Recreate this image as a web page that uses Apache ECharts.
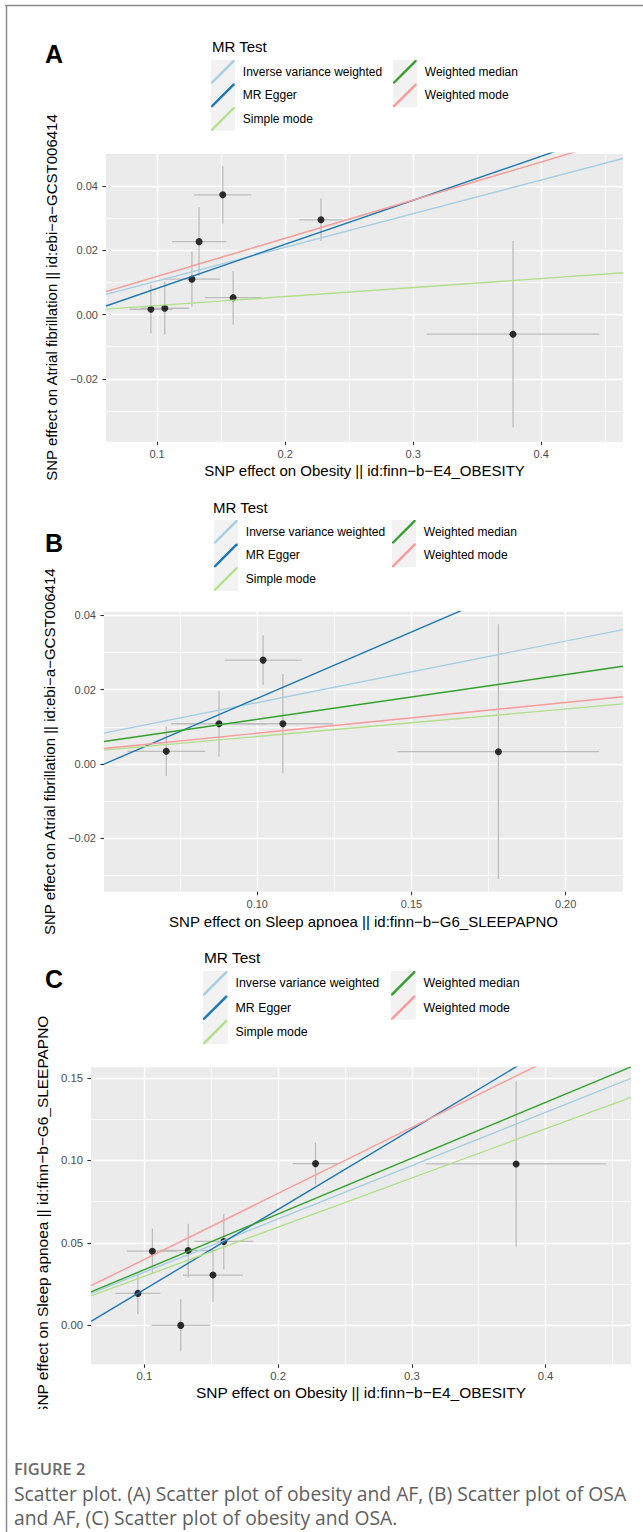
<!DOCTYPE html>
<html>
<head>
<meta charset="utf-8">
<script src="https://cdn.jsdelivr.net/npm/echarts@6/dist/echarts.min.js"></script>
<style>
html,body{margin:0;padding:0;background:#ffffff;}
#chart{width:643px;height:1532px;}
</style>
</head>
<body>
<div id="chart"></div>
<script>
// ---------------- data ----------------
const methods = ['Inverse variance weighted', 'MR Egger', 'Simple mode', 'Weighted median', 'Weighted mode'];

// Panel A : obesity -> AF
const aX    = [0.0952, 0.1060, 0.1272, 0.1328, 0.1513, 0.1594, 0.2280, 0.3780];
const aXse  = [0.0168, 0.0188, 0.0220, 0.0212, 0.0224, 0.0221, 0.0168, 0.0675];
const aY    = [0.00165, 0.00196, 0.0110, 0.02265, 0.0372, 0.00525, 0.02944, -0.0061];
const aYse  = [0.0075, 0.0082, 0.0086, 0.0107, 0.0089, 0.0083, 0.0066, 0.0290];
const aSlope     = [0.1045, 0.1369, 0.0280, 0.1185, 0.1185];
const aIntercept = [0, -0.00557, 0, 0, 0];
const aXRange = [0.0601, 0.4639];
const aYRange = [-0.0395, 0.0501];
const aXTicks = [0.1, 0.2, 0.3, 0.4];
const aYTicks = [-0.02, 0.00, 0.02, 0.04];
const aXMinor = [0.15, 0.25, 0.35, 0.45];
const aYMinor = [-0.03, -0.01, 0.01, 0.03, 0.05];
const aXName = 'SNP effect on Obesity || id:finn\u2212b\u2212E4_OBESITY';
const aYName = 'SNP effect on Atrial fibrillation || id:ebi\u2212a\u2212GCST006414';

// Panel B : sleep apnoea -> AF
const bX    = [0.0705, 0.0876, 0.1019, 0.1083, 0.1782];
const bXse  = [0.0126, 0.0155, 0.0125, 0.0163, 0.0327];
const bY    = [0.0034, 0.0108, 0.0279, 0.0108, 0.0033];
const bYse  = [0.0066, 0.0088, 0.0067, 0.0133, 0.0342];
const bSlope     = [0.165, 0.356, 0.0738, 0.120, 0.0826];
const bIntercept = [0, -0.01795, 0, 0, 0];
const bXRange = [0.0503, 0.2186];
const bYRange = [-0.0343, 0.0409];
const bXTicks = [0.10, 0.15, 0.20];
const bYTicks = [-0.02, 0.00, 0.02, 0.04];
const bXMinor = [0.075, 0.125, 0.175];
const bYMinor = [-0.03, -0.01, 0.01, 0.03];
const bXName = 'SNP effect on Sleep apnoea || id:finn\u2212b\u2212G6_SLEEPAPNO';
const bYName = 'SNP effect on Atrial fibrillation || id:ebi\u2212a\u2212GCST006414';

// Panel C : obesity -> sleep apnoea
const cX    = [0.0952, 0.1060, 0.1272, 0.1328, 0.1513, 0.1594, 0.2280, 0.3780];
const cXse  = [0.0168, 0.0188, 0.0220, 0.0212, 0.0224, 0.0221, 0.0168, 0.0675];
const cY    = [0.0194, 0.0450, 0.0000, 0.0454, 0.0305, 0.0509, 0.0981, 0.0979];
const cYse  = [0.0126, 0.0137, 0.0158, 0.0162, 0.0162, 0.0168, 0.0126, 0.0502];
const cSlope     = [0.323, 0.4857, 0.298, 0.338, 0.400];
const cIntercept = [0, -0.0268, 0, 0, 0];
const cXRange = [0.0601, 0.4639];
const cYRange = [-0.0236, 0.1565];
const cXTicks = [0.1, 0.2, 0.3, 0.4];
const cYTicks = [0.00, 0.05, 0.10, 0.15];
const cXMinor = [0.15, 0.25, 0.35, 0.45];
const cYMinor = [0.025, 0.075, 0.125];
const cXName = 'SNP effect on Obesity || id:finn\u2212b\u2212E4_OBESITY';
const cYName = 'SNP effect on Sleep apnoea || id:finn\u2212b\u2212G6_SLEEPAPNO';

// ---------------- styling / layout ----------------
const FONT = "'Liberation Sans', Arial, Helvetica, sans-serif";
const methodColors = ['#A6CEE3', '#1F78B4', '#B2DF8A', '#33A02C', '#FB9A99'];
const DIAG = 'path://M0,24L1.7,24L24,1.7L24,0L22.3,0L0,22.3Z';

function fmt(v, d) { return v.toFixed(d).replace('-', '\u2212'); }

const panels = [
  { letter: 'A', x: aX, xse: aXse, y: aY, yse: aYse, slope: aSlope, intercept: aIntercept,
    xRange: aXRange, yRange: aYRange, xTicks: aXTicks, yTicks: aYTicks, xMinor: aXMinor, yMinor: aYMinor,
    xDec: 1, yDec: 2, xName: aXName, yName: aYName, lineW: [1.4, 1.4, 1.4, 0.3, 1.4],
    grid: { left: 106, top: 153.3, width: 517, height: 288.4 }, yNameGap: 42, xNameGap: 21, fs: 1,
    letterPos: [54, 54], legTitle: [212, 46], leg1: [211, 60], leg2: [393, 60], rowH: 23.6 },
  { letter: 'B', x: bX, xse: bXse, y: bY, yse: bYse, slope: bSlope, intercept: bIntercept,
    xRange: bXRange, yRange: bYRange, xTicks: bXTicks, yTicks: bYTicks, xMinor: bXMinor, yMinor: bYMinor,
    xDec: 2, yDec: 2, xName: bXName, yName: bYName, lineW: [1.4, 1.4, 1.4, 1.4, 1.4],
    grid: { left: 104, top: 611.7, width: 519, height: 280 }, yNameGap: 40, xNameGap: 22, fs: 1,
    letterPos: [54, 543], legTitle: [213, 507], leg1: [214, 520], leg2: [392, 520], rowH: 23.6 },
  { letter: 'C', x: cX, xse: cXse, y: cY, yse: cYse, slope: cSlope, intercept: cIntercept,
    xRange: cXRange, yRange: cYRange, xTicks: cXTicks, yTicks: cYTicks, xMinor: cXMinor, yMinor: cYMinor,
    xDec: 1, yDec: 2, xName: cXName, yName: cYName, lineW: [1.4, 1.4, 1.4, 1.4, 1.4],
    grid: { left: 91, top: 1067.3, width: 540, height: 297 }, yNameGap: 35, xNameGap: 21, fs: 1.03,
    letterPos: [54, 979], legTitle: [204, 957], leg1: [203, 971], leg2: [391, 971], rowH: 24.4 }
];

const grids = [], xAxes = [], yAxes = [], series = [], legends = [], graphics = [];

panels.forEach((p, i) => {
  grids.push(Object.assign({ show: true, backgroundColor: '#EBEBEB', borderWidth: 0, containLabel: false, outerBoundsMode: 'none' }, p.grid));
  const fs = p.fs;
  const tickLabel = { color: '#4D4D4D', fontSize: 11 * fs, fontFamily: FONT };
  // major x
  xAxes.push({
    type: 'value', gridIndex: i, min: p.xRange[0], max: p.xRange[1], position: 'bottom',
    name: p.xName, nameLocation: 'middle', nameGap: p.xNameGap,
    nameTextStyle: { color: '#000', fontSize: 15 * fs, fontFamily: FONT },
    axisLine: { show: false, onZero: false },
    axisTick: { show: true, length: 3.6, lineStyle: { color: '#333333', width: 1.1 }, customValues: p.xTicks },
    axisLabel: Object.assign({ customValues: p.xTicks, margin: 6.5, formatter: v => fmt(v, p.xDec) }, tickLabel),
    splitLine: { show: true, lineStyle: { color: '#FFFFFF', width: 1.4 } }
  });
  // minor x
  xAxes.push({
    type: 'value', gridIndex: i, min: p.xRange[0], max: p.xRange[1], position: 'top',
    axisLine: { show: false, onZero: false }, axisLabel: { show: false },
    axisTick: { show: false, customValues: p.xMinor },
    splitLine: { show: true, lineStyle: { color: '#FFFFFF', width: 0.7 } }
  });
  // major y
  yAxes.push({
    type: 'value', gridIndex: i, min: p.yRange[0], max: p.yRange[1], position: 'left',
    name: p.yName, nameLocation: 'middle', nameGap: p.yNameGap, nameRotate: 90,
    nameTextStyle: { color: '#000', fontSize: 15 * fs, fontFamily: FONT },
    axisLine: { show: false, onZero: false },
    axisTick: { show: true, length: 3.6, lineStyle: { color: '#333333', width: 1.1 }, customValues: p.yTicks },
    axisLabel: Object.assign({ customValues: p.yTicks, margin: 8, formatter: v => fmt(v, p.yDec) }, tickLabel),
    splitLine: { show: true, lineStyle: { color: '#FFFFFF', width: 1.4 } }
  });
  // minor y
  yAxes.push({
    type: 'value', gridIndex: i, min: p.yRange[0], max: p.yRange[1], position: 'right',
    axisLine: { show: false, onZero: false }, axisLabel: { show: false },
    axisTick: { show: false, customValues: p.yMinor },
    splitLine: { show: true, lineStyle: { color: '#FFFFFF', width: 0.7 } }
  });

  const xi = 2 * i, yi = 2 * i;
  const rows = p.x.map((xv, k) => [xv, p.y[k], p.xse[k], p.yse[k]]);

  // error bars
  series.push({
    type: 'custom', name: 'errors' + p.letter, xAxisIndex: xi, yAxisIndex: yi, silent: true, clip: true,
    data: rows, encode: { x: 0, y: 1 },
    renderItem: (params, api) => {
      const xv = api.value(0), yv = api.value(1), xs = api.value(2), ys = api.value(3);
      const v0 = api.coord([xv, yv - ys]), v1 = api.coord([xv, yv + ys]);
      const h0 = api.coord([xv - xs, yv]), h1 = api.coord([xv + xs, yv]);
      const st = { stroke: '#BDBDBD', lineWidth: 1.3 };
      return { type: 'group', children: [
        { type: 'line', shape: { x1: v0[0], y1: v0[1], x2: v1[0], y2: v1[1] }, style: st },
        { type: 'line', shape: { x1: h0[0], y1: h0[1], x2: h1[0], y2: h1[1] }, style: st }
      ] };
    }
  });
  // points
  series.push({
    type: 'scatter', name: 'SNPs' + p.letter, xAxisIndex: xi, yAxisIndex: yi, silent: true,
    symbol: 'circle', symbolSize: 7, itemStyle: { color: '#000000' },
    data: rows.map(r => [r[0], r[1]])
  });
  // MR regression lines (abline: intercept + slope over the panel's x range)
  methods.forEach((m, k) => {
    const a = p.intercept[k], b = p.slope[k];
    series.push({
      type: 'line', name: m, xAxisIndex: xi, yAxisIndex: yi, silent: true, clip: true,
      showSymbol: false, symbol: 'none',
      lineStyle: { color: methodColors[k], width: p.lineW[k] },
      itemStyle: { color: methodColors[k] },
      data: [[p.xRange[0], a + b * p.xRange[0]], [p.xRange[1], a + b * p.xRange[1]]]
    });
  });

  // legends (two columns)
  const legBase = {
    orient: 'vertical', itemGap: 0, itemWidth: 24 * fs, itemHeight: p.rowH, padding: 0,
    selectedMode: false, icon: DIAG, itemStyle: { borderWidth: 0 },
    textStyle: { color: '#000', fontSize: 12 * fs, fontFamily: FONT, padding: [0, 0, 0, 3] }
  };
  legends.push(Object.assign({}, legBase, { left: p.leg1[0], top: p.leg1[1], data: methods.slice(0, 3) }));
  legends.push(Object.assign({}, legBase, { left: p.leg2[0], top: p.leg2[1], data: methods.slice(3) }));
  graphics.push({ type: 'rect', z: -1, shape: { x: p.leg1[0], y: p.leg1[1], width: 24 * fs, height: p.rowH * 3 }, style: { fill: '#F2F2F2' } });
  graphics.push({ type: 'rect', z: -1, shape: { x: p.leg2[0], y: p.leg2[1], width: 24 * fs, height: p.rowH * 2 }, style: { fill: '#F2F2F2' } });
  graphics.push({ type: 'text', x: p.legTitle[0], y: p.legTitle[1],
    style: { text: 'MR Test', fill: '#000', font: (15 * fs) + 'px ' + FONT, textAlign: 'left', textVerticalAlign: 'middle' } });
  graphics.push({ type: 'text', x: p.letterPos[0], y: p.letterPos[1],
    style: { text: p.letter, fill: '#000', font: 'bold 25px ' + FONT, textAlign: 'center', textVerticalAlign: 'middle' } });
});

// figure frame, clipping of panel C y title, caption
graphics.push({ type: 'line', shape: { x1: 5, y1: 5.5, x2: 643, y2: 5.5 }, style: { stroke: '#8C8C8C', lineWidth: 1.5 } });
graphics.push({ type: 'line', shape: { x1: 6.5, y1: 5, x2: 6.5, y2: 1532 }, style: { stroke: '#8C8C8C', lineWidth: 1.5 } });
graphics.push({ type: 'rect', z: 200, shape: { x: 25, y: 1409, width: 40, height: 30 }, style: { fill: '#FFFFFF' } });
const CAP_FONT = "'Open Sans', 'Noto Sans', sans-serif";
graphics.push({ type: 'text', x: 14, y: 1468, style: { text: 'FIGURE 2', fill: '#6B6B6B', font: '600 16.5px ' + CAP_FONT, textVerticalAlign: 'middle' } });
graphics.push({ type: 'text', x: 14, y: 1493, style: { text: 'Scatter plot. (A) Scatter plot of obesity and AF, (B) Scatter plot of OSA', fill: '#606060', font: '19.3px ' + CAP_FONT, textVerticalAlign: 'middle' } });
graphics.push({ type: 'text', x: 14, y: 1517, style: { text: 'and AF, (C) Scatter plot of obesity and OSA.', fill: '#606060', font: '19.3px ' + CAP_FONT, textVerticalAlign: 'middle' } });

const chart = echarts.init(document.getElementById('chart'), null, { renderer: 'svg' });
chart.setOption({
  animation: false,
  backgroundColor: '#FFFFFF',
  grid: grids,
  xAxis: xAxes,
  yAxis: yAxes,
  legend: legends,
  series: series,
  graphic: graphics
});
</script>
</body>
</html>
